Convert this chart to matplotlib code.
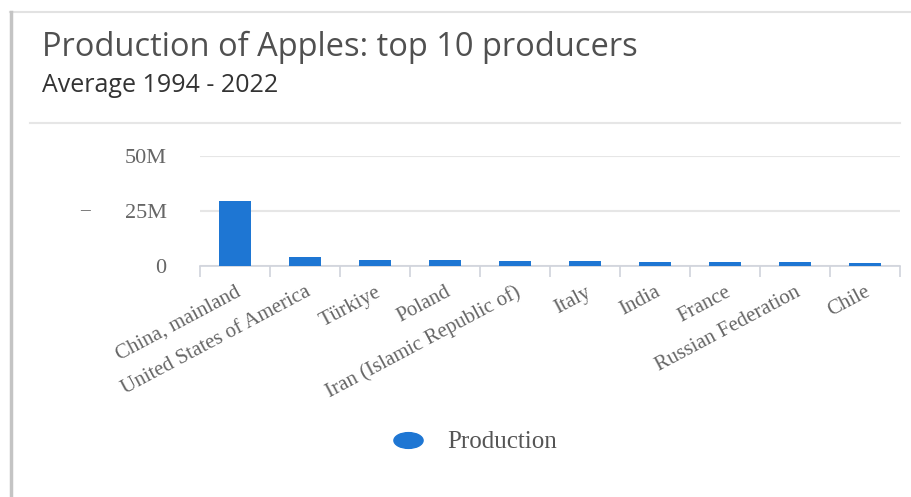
import matplotlib.pyplot as plt
from matplotlib.lines import Line2D
from matplotlib.path import Path
from matplotlib.transforms import Affine2D

countries = ['China, mainland', 'United States of America', 'Türkiye', 'Poland',
             'Iran (Islamic Republic of)', 'Italy', 'India', 'France',
             'Russian Federation', 'Chile']
production = [29.4e6, 4.3e6, 2.8e6, 2.6e6, 2.4e6, 2.2e6, 1.9e6, 1.8e6, 1.7e6, 1.3e6]
y_ticks = [0, 25e6, 50e6]
y_tick_labels = ['0', '25M', '50M']

W, H = 911, 497
bar_color = '#1e76d3'
serif = 'Liberation Serif'
sans = 'Open Sans'

fig = plt.figure(figsize=(W / 100, H / 100), dpi=100)

def fx(px):
    return px / W

def fy(py):
    return 1 - py / H

# card outline
fig.add_artist(Line2D([fx(10), 1], [fy(12), fy(12)], color='#e2e2e2', lw=1.5))
fig.add_artist(Line2D([fx(11), fx(11)], [fy(12), 0], color='#c4c4c4', lw=2.5))
fig.add_artist(Line2D([fx(30), fx(900)], [fy(123), fy(123)], color='#e6e6e6', lw=1.5))

fig.text(fx(42), fy(47), 'Production of Apples: top 10 producers', family=sans,
         fontsize=23.5, color='#505050', va='center', ha='left')
fig.text(fx(42), fy(86), 'Average 1994 - 2022', family=sans,
         fontsize=18, color='#333333', va='center', ha='left')

ax = fig.add_axes([fx(200), fy(266), fx(700), 110 / H])
x = range(len(countries))
ax.bar(x, production, width=0.46, color=bar_color, zorder=3)
ax.set_xlim(-0.5, len(countries) - 0.5)
ax.set_ylim(0, 50e6)

ax.set_yticks(y_ticks)
ax.set_yticklabels(y_tick_labels, family=serif, fontsize=16, color='#666666')
ax.tick_params(axis='y', length=0, pad=24)
ax.yaxis.grid(True, color='#e6e6e6', lw=1.5, zorder=0)

ax.set_xticks([i - 0.5 for i in range(len(countries) + 1)], minor=True)
ax.set_xticks(list(x))
ax.set_xticklabels(countries, rotation=28, ha='right', va='top',
                   rotation_mode='anchor', family=serif, fontsize=15, color='#666666')
ax.tick_params(axis='x', which='major', length=0, pad=12)
ax.tick_params(axis='x', which='minor', length=8, width=1.2, color='#d0d3dc')

for side in ['top', 'right', 'left']:
    ax.spines[side].set_visible(False)
ax.spines['bottom'].set_color('#d0d3dc')
ax.spines['bottom'].set_linewidth(1.2)

fig.text(fx(85), fy(211), '–', family=serif, fontsize=14, color='#555555',
         ha='center', va='center')

# wide oval legend marker
oval = Path.unit_circle().transformed(Affine2D().scale(1.85, 1.0))
handle = Line2D([], [], marker=oval, linestyle='none', markersize=21,
                color=bar_color)
fig.legend([handle], ['Production'], loc='center left',
           bbox_to_anchor=(fx(360), fy(442)), frameon=False,
           prop={'family': serif, 'size': 18}, handletextpad=0.6,
           labelcolor='#555555')

fig.savefig('out.png', dpi=100)
